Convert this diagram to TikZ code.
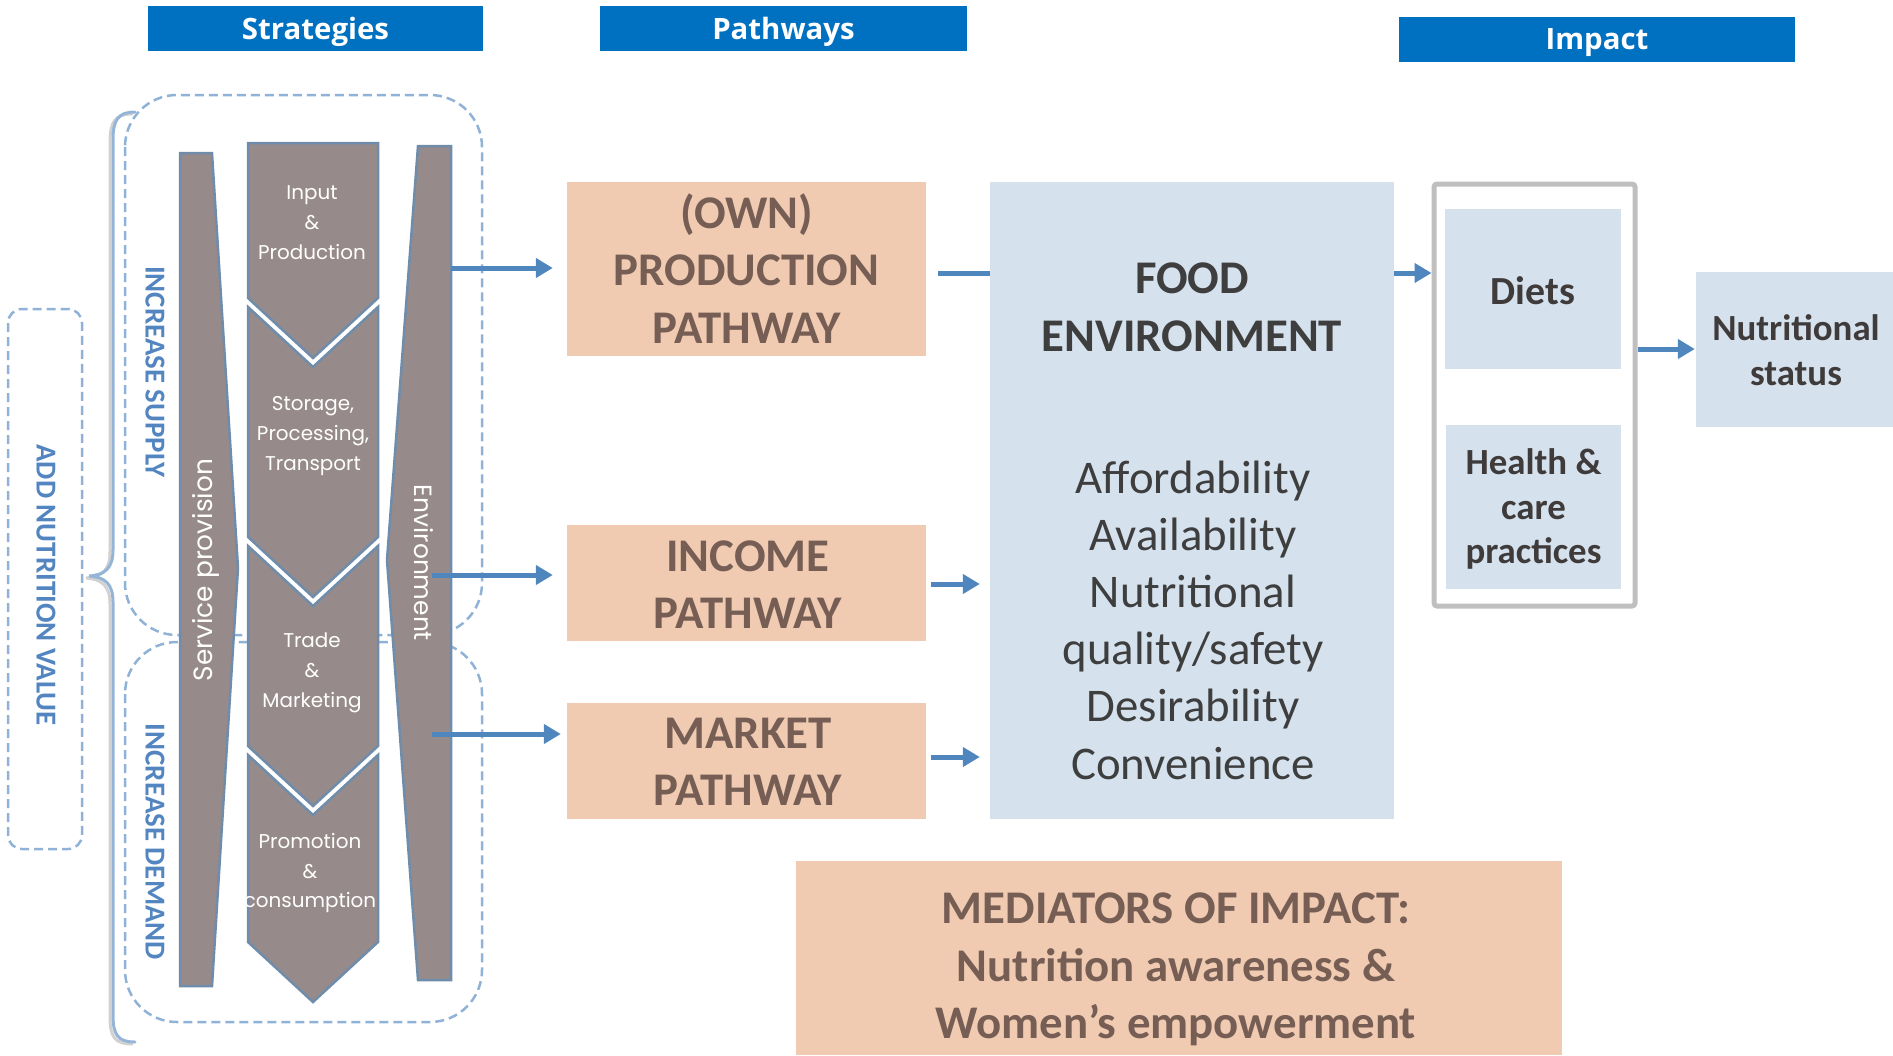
\documentclass[tikz,border=0pt]{standalone}
\usepackage{fontspec}
\setmainfont{Carlito}
\newfontfamily\gothic{Poppins}
\newfontfamily\hdrfont{Open Sans}
\usetikzlibrary{arrows.meta}
\definecolor{hdrblue}{HTML}{0070C0}
\definecolor{dashblue}{HTML}{8FB2D6}
\definecolor{lblblue}{HTML}{5385C0}
\definecolor{barfill}{HTML}{968B8A}
\definecolor{barline}{HTML}{6F8CAB}
\definecolor{arrblue}{HTML}{4F86BD}
\definecolor{peach}{HTML}{F0CBB2}
\definecolor{peachtxt}{HTML}{765E55}
\definecolor{lightbox}{HTML}{D5E2EE}
\definecolor{darktxt}{HTML}{3E3E3E}
\definecolor{imptxt}{HTML}{403B3B}
\definecolor{greyline}{HTML}{BFBFBF}
\definecolor{bracecol}{HTML}{95B5D8}
\begin{document}
\begin{tikzpicture}[x=1bp,y=-1bp,
  hdr/.style={fill=hdrblue, inner sep=0pt},
  hdrtxt/.style={text=white, inner sep=0pt, font=\hdrfont\bfseries\fontsize{29.5}{34}\selectfont},
  dashbox/.style={draw=dashblue, line width=2.5bp, dash pattern=on 9bp off 5bp},
  sidelbl/.style={text=lblblue, inner sep=0pt, font=\bfseries\fontsize{29}{34}\selectfont},
  bar/.style={fill=barfill, draw=barline, line width=2.5bp, line join=miter},
  gtxt/.style={text=white, inner sep=0pt, align=center, font=\gothic\fontsize{20}{30}\selectfont},
  bartxt/.style={text=white, inner sep=0pt, font=\gothic\fontsize{25}{28}\selectfont},
  pbox/.style={fill=peach, inner sep=0pt},
  ptxt/.style={text=peachtxt, inner sep=0pt, align=center, font=\bfseries\fontsize{47}{57.5}\selectfont},
  lbox/.style={fill=lightbox, inner sep=0pt},
  arr/.style={draw=arrblue, line width=5bp, -{Triangle[length=17bp,width=19bp]}},
  plainln/.style={draw=arrblue, line width=5bp},
  itxt/.style={text=imptxt, inner sep=0pt, align=center, font=\bfseries\fontsize{37}{44.6}\selectfont}
]
\useasboundingbox (0,0) rectangle (1893,1055);

% headers
\node[hdr, minimum width=335bp, minimum height=45bp] (hstrat) at (315.5,28.5) {};
\node[hdr, minimum width=367bp, minimum height=45bp] (hpath) at (783.5,28.5) {};
\node[hdr, minimum width=396bp, minimum height=45bp] (himp) at (1597,39.5) {};
\node[hdrtxt] (hstrattxt) at (315.5,32) {Strategies};
\node[hdrtxt] (hpathtxt) at (783.5,32) {Pathways};
\node[hdrtxt] (himptxt) at (1597,43) {Impact};

% add nutrition value box
\draw[dashbox, rounded corners=14bp] (8,309) rectangle (82,849);
\node[sidelbl, rotate=-90] (addnv) at (46,585) {ADD NUTRITION VALUE};

% brace
\draw[gray!60, line width=3bp, opacity=0.6, line cap=round]
  (132,114) .. controls (115,114) and (110,122) .. (110,142) -- (110,552)
  .. controls (110,570) and (102,577) .. (86,578)
  .. controls (102,579) and (110,586) .. (110,604) -- (110,1017)
  .. controls (110,1037) and (115,1044) .. (132,1044);
\draw[bracecol, line width=3bp, line cap=round]
  (135,112) .. controls (118,112) and (113,120) .. (113,140) -- (113,550)
  .. controls (113,568) and (105,575) .. (89,576)
  .. controls (105,577) and (113,584) .. (113,602) -- (113,1015)
  .. controls (113,1035) and (118,1042) .. (135,1042);

% supply / demand boxes
\draw[dashbox, rounded corners=52bp] (125,95) rectangle (482,635);
\draw[dashbox, rounded corners=52bp] (125,642) rectangle (482,1022);
\node[sidelbl, rotate=-90] (incsup) at (155,372) {INCREASE SUPPLY};
\node[sidelbl, rotate=-90] (incdem) at (155,842) {INCREASE DEMAND};

% side bars
\draw[bar] (180,153) -- (212,153) -- (238,568) -- (212,986) -- (180,986) -- cycle;
\draw[bar] (418,146) -- (451,146) -- (451,980) -- (418,980) -- (387,560) -- cycle;
\node[bartxt, font=\gothic\fontsize{26.5}{30}\selectfont, rotate=90] (servprov) at (206,570) {Service provision};
\node[bartxt, rotate=-90] (envtxt) at (424,563) {Environment};

% chevron column
\draw[bar] (248,143) -- (378,143) -- (378,298) -- (313,358) -- (248,298) -- cycle;
\draw[bar] (248,307) -- (313,367) -- (378,307) -- (378,537) -- (313,597) -- (248,537) -- cycle;
\draw[bar] (248,546) -- (313,606) -- (378,546) -- (378,746) -- (313,806) -- (248,746) -- cycle;
\draw[bar] (248,755) -- (313,815) -- (378,755) -- (378,942) -- (313,1002) -- (248,942) -- cycle;
\node[gtxt] (input) at (312,223) {Input\\\&\\Production};
\node[gtxt] (storage) at (313,436) {Storage,\\Processing,\\Transport};
\node[gtxt] (trade) at (312,673) {Trade\\\&\\Marketing};
\node[gtxt] (promo) at (310,873) {Promotion\\\&\\consumption};

% pathway boxes
\node[pbox, minimum width=359bp, minimum height=174bp] (own) at (746.5,269) {};
\node[pbox, minimum width=359bp, minimum height=116bp] (income) at (746.5,583) {};
\node[pbox, minimum width=359bp, minimum height=116bp] (market) at (746.5,761) {};
\node[ptxt] (owntxt) at (746.5,268.5) {(OWN)\\PRODUCTION\\PATHWAY};
\node[ptxt] (inctxt) at (748,584.5) {INCOME\\PATHWAY};
\node[ptxt] (mkttxt) at (748,761.5) {MARKET\\PATHWAY};

% strategy arrows
\coordinate (s1) at (451,268);
\coordinate (s2) at (432,575);
\coordinate (s3) at (432,734);
\draw[arr, shorten >=14bp] (s1) -- (own.west |- s1);
\draw[arr, shorten >=14bp] (s2) -- (income.west |- s2);
\draw[arr, shorten >=6bp] (s3) -- (market.west |- s3);

% food environment
\node[lbox, minimum width=404bp, minimum height=637bp] (fe) at (1192,500.5) {};
\node[text=darktxt, inner sep=0pt, align=center, font=\bfseries\fontsize{47}{58}\selectfont] (fetitle) at (1192,307) {FOOD\\ENVIRONMENT};
\node[text=darktxt, inner sep=0pt, align=center, font=\fontsize{47}{57.4}\selectfont] (felist) at (1193,620) {Affordability\\Availability\\Nutritional\\quality/safety\\Desirability\\Convenience};

% pathway -> FE
\coordinate (p1) at (938,273);
\coordinate (p2) at (931,584);
\coordinate (p3) at (931,757);
\draw[plainln] (p1) -- (fe.west |- p1);
\draw[arr, shorten >=10bp] (p2) -- (fe.west |- p2);
\draw[arr, shorten >=10bp] (p3) -- (fe.west |- p3);

% impact
\node[draw=greyline, line width=5bp, rounded corners=3bp, minimum width=201bp, minimum height=422bp, inner sep=0pt] (grey) at (1534.5,395) {};
\node[lbox, minimum width=176bp, minimum height=160bp] (diets) at (1533,289) {};
\node[lbox, minimum width=175bp, minimum height=164bp] (health) at (1533.5,507) {};
\node[itxt, font=\bfseries\fontsize{40}{48}\selectfont] (dietstxt) at (1533,291) {Diets};
\node[itxt] (healthtxt) at (1533.5,509) {Health \&\\care\\practices};
\node[lbox, minimum width=197bp, minimum height=155bp] (nutr) at (1794.5,349.5) {};
\node[itxt] (nutrtxt) at (1796,350) {Nutritional\\status};

\draw[arr] (fe.east |- p1) -- (grey.west |- p1);
\coordinate (g1) at (1637,349);
\draw[arr, shorten >=1bp] (grey.east |- g1) -- (nutr.west |- g1);

% mediators
\node[pbox, minimum width=766bp, minimum height=194bp] (med) at (1179,958) {};
\node[ptxt] (medtxt) at (1176,969.5) {MEDIATORS OF IMPACT:\\Nutrition awareness \&\\Women’s empowerment};
\end{tikzpicture}
\end{document}
